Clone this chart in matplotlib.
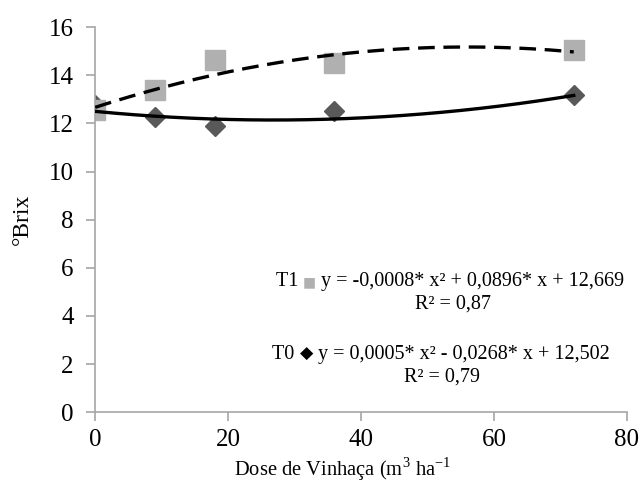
import numpy as np
import matplotlib
matplotlib.use("Agg")
import matplotlib.pyplot as plt
from matplotlib.offsetbox import TextArea, HPacker, AnnotationBbox

# -----------------------------------
# Data
# -----------------------------------
dose = [0, 9, 18, 36, 72]
brix_t1 = [12.55, 13.4, 14.65, 14.5, 15.05]
brix_t0 = [12.75, 12.25, 11.9, 12.5, 13.2]

# quadratic trendline coefficients (a, b, c) from the chart's equations
coef_t1 = [-0.0008, 0.0896, 12.669]
coef_t0 = [0.0005, -0.0268, 12.502]

x_ticks = [0, 20, 40, 60, 80]
y_ticks = [0, 2, 4, 6, 8, 10, 12, 14, 16]

plt.rcParams['font.family'] = ['Liberation Serif', 'DejaVu Sans']
plt.rcParams['mathtext.fontset'] = 'custom'
plt.rcParams['mathtext.rm'] = 'Liberation Serif'

fig = plt.figure(figsize=(6.43, 4.86), dpi=100)
ax = fig.add_axes([0.148, 0.152, 0.827, 0.792])

xs = np.linspace(0, 72, 200)
ax.plot(xs, np.polyval(coef_t1, xs), color='black', lw=2.4, dashes=(5, 2.6), zorder=3)
ax.plot(xs, np.polyval(coef_t0, xs), color='black', lw=2.4, zorder=3)

ax.plot(dose, brix_t0, 'D', color='#595959', markersize=10, ls='none', zorder=2)
ax.plot(dose, brix_t1, 's', color='#b0b0b0', markersize=14, ls='none', zorder=2)

ax.set_xlim(0, 80)
ax.set_ylim(0, 16)
ax.set_xticks(x_ticks)
ax.set_yticks(y_ticks)
ax.tick_params(labelsize=18, color='#a6a6a6', length=6.5, width=1.2)
ax.tick_params(axis='x', pad=6)
ax.tick_params(axis='y', pad=9)
for s in ['top', 'right']:
    ax.spines[s].set_visible(False)
for s in ['left', 'bottom']:
    ax.spines[s].set_color('#a6a6a6')
    ax.spines[s].set_linewidth(1.2)

ax.set_ylabel('°Brix', fontsize=17)
ax.yaxis.set_label_coords(-0.117, 0.5)
ax.set_xlabel('Dose de Vinhaça (m$^3$ ha$^{-1}$', fontsize=14.8)
ax.xaxis.set_label_coords(0.466, -0.112)

# equation labels with coloured marker glyphs
fs = 14.5

def eq_line(name, glyph, glyph_color, glyph_size, eq, x, y):
    parts = [TextArea(name + ' ', textprops=dict(fontsize=fs)),
             TextArea(glyph, textprops=dict(fontsize=glyph_size, color=glyph_color,
                                            family=['DejaVu Sans'])),
             TextArea(' ' + eq, textprops=dict(fontsize=fs))]
    box = HPacker(children=parts, align='baseline', pad=0, sep=0)
    ab = AnnotationBbox(box, (x, y), xycoords='figure fraction', frameon=False,
                        box_alignment=(0.5, 0.5), pad=0)
    fig.add_artist(ab)

eq_line('T1', '\u25a0', '#b0b0b0', 10, 'y = -0,0008* x² + 0,0896* x + 12,669', 0.70, 0.42)
fig.text(0.705, 0.374, 'R² = 0,87', fontsize=fs, ha='center', va='center')

eq_line('T0', '\u25c6', 'black', 12.5, 'y = 0,0005* x² - 0,0268* x + 12,502', 0.686, 0.27)
fig.text(0.688, 0.224, 'R² = 0,79', fontsize=fs, ha='center', va='center')

plt.savefig('out.png', dpi=100)
